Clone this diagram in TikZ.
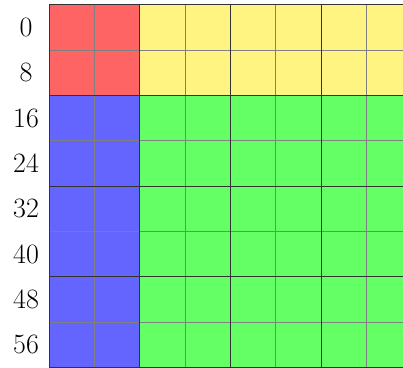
\documentclass[tikz,border=0pt]{standalone}
\definecolor{cred}{RGB}{255,100,100}
\definecolor{cyel}{RGB}{255,243,130}
\definecolor{cblue}{RGB}{100,100,255}
\definecolor{cgreen}{RGB}{100,255,100}
\begin{document}
\begin{tikzpicture}[x=1pt,y=-1pt,
  thin grid/.style={draw=black!50,line width=0.9pt},
  thick grid/.style={draw=black!80,line width=0.9pt},
  rowlabel/.style={font=\fontsize{28}{30}\selectfont,inner sep=0pt}]
\useasboundingbox (0,0) rectangle (403,367);
\def\cs{45.35}
\def\xo{49}
\def\yo{4.7}
% fills
\fill[cred]   (\xo,\yo) rectangle ++(2*\cs,2*\cs);
\fill[cyel]   (\xo+2*\cs,\yo) rectangle ++(6*\cs,2*\cs);
\fill[cblue]  (\xo,\yo+2*\cs) rectangle ++(2*\cs,6*\cs);
\fill[cgreen] (\xo+2*\cs,\yo+2*\cs) rectangle ++(6*\cs,6*\cs);
% thin grid lines
\foreach \i in {1,3,5,7}{
  \draw[thin grid] (\xo+\i*\cs,\yo) -- (\xo+\i*\cs,\yo+8*\cs);
  \draw[thin grid] (\xo,\yo+\i*\cs) -- (\xo+8*\cs,\yo+\i*\cs);
}
% thick grid lines
\foreach \i in {0,2,4,6,8}{
  \draw[thick grid] (\xo+\i*\cs,\yo) -- (\xo+\i*\cs,\yo+8*\cs);
  \draw[thick grid] (\xo,\yo+\i*\cs) -- (\xo+8*\cs,\yo+\i*\cs);
}
% labels
\foreach \r [evaluate=\r as \v using int(8*\r)] in {0,...,7}{
  \node[rowlabel] (lab\r) at (26,\yo+\r*\cs+0.5*\cs) {\v};
}
\end{tikzpicture}
\end{document}
